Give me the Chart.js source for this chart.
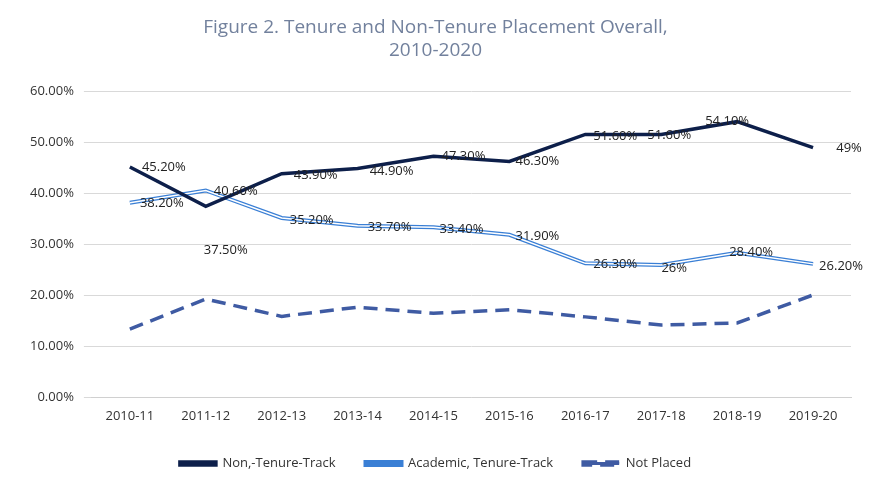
<!DOCTYPE html>
<html>
<head>
<meta charset="utf-8">
<script src="https://cdn.jsdelivr.net/npm/chart.js@4"></script>
<style>
  body { margin: 0; background: #fff; }
  #wrap { width: 891px; height: 496px; }
</style>
</head>
<body>
<div id="wrap"><canvas id="chart"></canvas></div>
<script>
const years = ['2010-11', '2011-12', '2012-13', '2013-14', '2014-15', '2015-16', '2016-17', '2017-18', '2018-19', '2019-20'];
const tenureTrack = [38.2, 40.6, 35.2, 33.7, 33.4, 31.9, 26.3, 26.0, 28.4, 26.2];
const tenureLabels = ['38.20%', '40.60%', '35.20%', '33.70%', '33.40%', '31.90%', '26.30%', '26%', '28.40%', '26.20%'];
const nonTenure = [45.2, 37.5, 43.9, 44.9, 47.3, 46.3, 51.6, 51.6, 54.1, 49.0];
const nonTenureLabels = ['45.20%', '37.50%', '43.90%', '44.90%', '47.30%', '46.30%', '51.60%', '51.60%', '54.10%', '49%'];
const notPlaced = [13.4, 19.3, 15.9, 17.7, 16.5, 17.2, 15.8, 14.2, 14.6, 20.1];

// label offsets in px relative to each point
const nonTenureOffsets = [[34, 0], [20, 44], [34, 2], [34, 3], [30, 0], [28, 0], [30, 2], [8, 1], [-10, 0], [36, 1]];
const tenureOffsets = [[32, 1], [30, 1], [30, 2], [32, 2], [28, 2], [28, 1], [30, 1], [13, 3], [14, 0], [28, 2]];

const pointLabels = {
  id: 'pointLabels',
  afterDatasetsDraw(chart) {
    const ctx = chart.ctx;
    ctx.save();
    ctx.font = '13px "Open Sans", sans-serif';
    ctx.fillStyle = '#222';
    ctx.textAlign = 'center';
    ctx.textBaseline = 'middle';
    [[2, nonTenureLabels, nonTenureOffsets], [0, tenureLabels, tenureOffsets]].forEach(([idx, labels, offs]) => {
      chart.getDatasetMeta(idx).data.forEach((pt, i) => {
        ctx.fillText(labels[i], pt.x + offs[i][0], pt.y + offs[i][1]);
      });
    });
    ctx.restore();
  }
};

new Chart(document.getElementById('chart'), {
  type: 'line',
  data: {
    labels: years,
    datasets: [
      { label: 'Academic, Tenure-Track', data: tenureTrack, borderColor: '#3a7fd5', backgroundColor: '#fff', borderWidth: 4, pointRadius: 0, tension: 0, order: 2 },
      { label: 'inner', data: tenureTrack, borderColor: '#ffffff', borderWidth: 1.5, pointRadius: 0, tension: 0, order: 1 },
      { label: 'Non,-Tenure-Track', data: nonTenure, borderColor: '#0d1f4a', backgroundColor: '#0d1f4a', borderWidth: 3.5, pointRadius: 0, tension: 0, order: 0 },
      { label: 'Not Placed', data: notPlaced, borderColor: '#3f5ba3', backgroundColor: '#3f5ba3', borderWidth: 3.5, borderDash: [14, 8], pointRadius: 0, tension: 0, order: 3 }
    ]
  },
  options: {
    responsive: true,
    maintainAspectRatio: false,
    animation: false,
    layout: { padding: { left: 20, right: 40, top: 0, bottom: 16 } },
    plugins: {
      title: {
        display: true,
        text: ['Figure 2. Tenure and Non-Tenure Placement Overall,', '2010-2020'],
        color: '#72819d',
        font: { family: '"Open Sans", sans-serif', size: 19, weight: 'normal' },
        padding: { top: 16, bottom: 30 }
      },
      legend: {
        position: 'bottom',
        labels: {
          filter: (item) => item.text !== 'inner',
          boxWidth: 36, boxHeight: 3,
          color: '#333',
          font: { family: '"Open Sans", sans-serif', size: 13 },
          padding: 30
        }
      },
      tooltip: { enabled: false }
    },
    scales: {
      x: {
        offset: true,
        grid: { display: false },
        border: { color: '#d0d0d0' },
        ticks: { color: '#333', font: { family: '"Open Sans", sans-serif', size: 13 } }
      },
      y: {
        min: 0, max: 60,
        ticks: { stepSize: 10, color: '#333', font: { family: '"Open Sans", sans-serif', size: 13 }, callback: (v) => v.toFixed(2) + '%', padding: 10 },
        grid: { color: '#d9d9d9' },
        border: { display: false }
      }
    }
  },
  plugins: [pointLabels]
});
</script>
</body>
</html>
